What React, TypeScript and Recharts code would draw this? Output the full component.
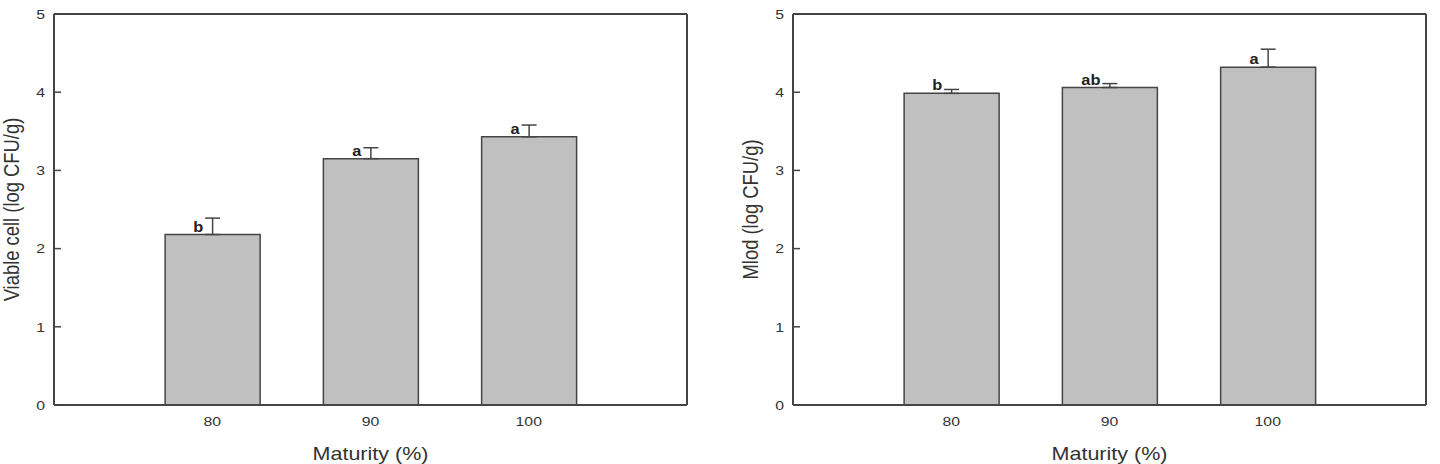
import React from 'react';
import {
  ComposedChart,
  Bar,
  XAxis,
  YAxis,
  ErrorBar,
  LabelList,
  ReferenceLine,
  Label,
} from 'recharts';

// ---- data ----
const maturity = [80, 90, 100];
const viableCell = [2.18, 3.15, 3.43];
const viableErr = [0.21, 0.14, 0.15];
const viableLetters = ['b', 'a', 'a'];
const mold = [3.985, 4.06, 4.32];
const moldErr = [0.05, 0.05, 0.23];
const moldLetters = ['b', 'ab', 'a'];
const yTicks = [0, 1, 2, 3, 4, 5];
const xTicks = [80, 90, 100];
const xDomain = [70, 110];
const yDomain = [0, 5];

const FONT = '"Liberation Sans", Arial, Helvetica, sans-serif';
const AXIS = '#454545';
const TEXT = '#333333';
const SX = 1.17; // horizontal stretch of the original figure's text

const buildData = (vals: number[], errs: number[], letters: string[]) =>
  maturity.map((m, i) => ({ m, v: vals[i], err: [0, errs[i]], letter: letters[i] }));

const viableData = buildData(viableCell, viableErr, viableLetters);
const moldData = buildData(mold, moldErr, moldLetters);

const XTick = (props: any) => {
  const { x, y, payload } = props;
  return (
    <text
      transform={`translate(${x},${y}) scale(${SX},1)`}
      textAnchor="middle"
      dy="0.71em"
      fontFamily={FONT}
      fontSize={13.5}
      fill={TEXT}
    >
      {payload.value}
    </text>
  );
};

const YTick = (props: any) => {
  const { x, y, payload } = props;
  const axisX = x + 9;
  return (
    <g>
      <line x1={axisX} x2={axisX + 7} y1={y} y2={y} stroke={AXIS} strokeWidth={1.5} />
      <text
        transform={`translate(${x},${y}) scale(${SX},1)`}
        textAnchor="end"
        dy="0.355em"
        fontFamily={FONT}
        fontSize={13.5}
        fill={TEXT}
      >
        {payload.value}
      </text>
    </g>
  );
};

const makeXTitle = (text: string) => (props: any) => {
  const { x, y, width, height } = props.viewBox;
  return (
    <text
      transform={`translate(${x + width / 2},${y + height - 4.5}) scale(${SX},1)`}
      textAnchor="middle"
      fontFamily={FONT}
      fontSize={18.4}
      fill={TEXT}
    >
      {text}
    </text>
  );
};

const makeYTitle = (text: string) => (props: any) => {
  const { x, y, width, height } = props.viewBox;
  const cx = x + width - 43;
  const cy = y + height / 2;
  return (
    <text
      transform={`translate(${cx},${cy}) scale(${SX},1) rotate(-90)`}
      textAnchor="middle"
      dy="0.355em"
      fontFamily={FONT}
      fontSize={18.4}
      fill={TEXT}
    >
      {text}
    </text>
  );
};

const LetterLabel = (props: any) => {
  const { x, y, width, value } = props;
  return (
    <text
      transform={`translate(${x + width / 2 - 9.5},${y - 3}) scale(${SX},1)`}
      textAnchor="end"
      fontFamily={FONT}
      fontWeight="bold"
      fontSize={14}
      fill="#222"
    >
      {value}
    </text>
  );
};

const Panel = ({
  data,
  yLabel,
  yAxisWidth,
  marginRight,
}: {
  data: any[];
  yLabel: string;
  yAxisWidth: number;
  marginRight: number;
}) => (
  <ComposedChart
    width={720}
    height={464}
    data={data}
    margin={{ top: 14, right: marginRight, bottom: 0, left: 0 }}
  >
    <XAxis
      dataKey="m"
      type="number"
      domain={xDomain}
      ticks={xTicks}
      height={59}
      tickLine={false}
      tickSize={0}
      tickMargin={11}
      axisLine={{ stroke: AXIS, strokeWidth: 2 }}
      tick={<XTick />}
      label={<Label content={makeXTitle('Maturity (%)')} />}
    />
    <YAxis
      type="number"
      domain={yDomain}
      ticks={yTicks}
      width={yAxisWidth}
      tickLine={false}
      tickSize={0}
      tickMargin={9}
      axisLine={{ stroke: AXIS, strokeWidth: 2 }}
      tick={<YTick />}
      label={<Label content={makeYTitle(yLabel)} />}
    />
    <ReferenceLine y={5} stroke={AXIS} strokeWidth={2} />
    <ReferenceLine x={110} stroke={AXIS} strokeWidth={2} />
    <Bar
      dataKey="v"
      fill="#c0c0c0"
      stroke={AXIS}
      strokeWidth={1.5}
      barSize={95}
      isAnimationActive={false}
    >
      <ErrorBar dataKey="err" width={7.5} stroke={AXIS} strokeWidth={1.5} direction="y" />
      <LabelList dataKey="letter" content={LetterLabel} />
    </Bar>
  </ComposedChart>
);

export default function App() {
  return (
    <div
      style={{
        position: 'absolute',
        left: 0,
        top: 0,
        width: 1440,
        height: 464,
        display: 'flex',
        background: '#fff',
      }}
    >
      <Panel data={viableData} yLabel="Viable cell (log CFU/g)" yAxisWidth={54} marginRight={33} />
      <Panel data={moldData} yLabel="Mlod (log CFU/g)" yAxisWidth={73} marginRight={14} />
    </div>
  );
}
